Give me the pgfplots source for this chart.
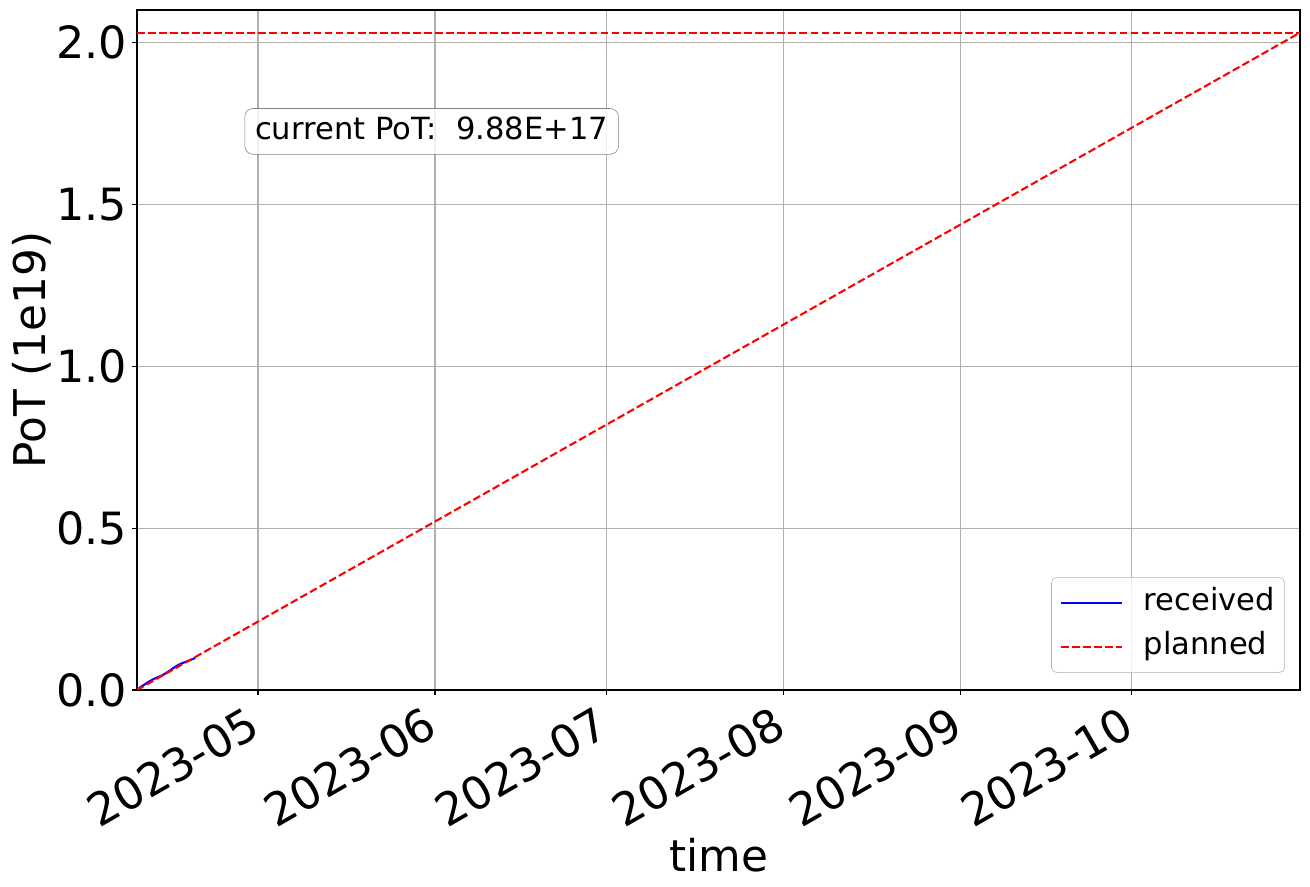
\documentclass[border=0pt]{standalone}
\usepackage{pgfplots}
\pgfplotsset{compat=1.18}
\usepackage{fontspec}
\setmainfont{DejaVu Sans}
\definecolor{mplgrid}{HTML}{B0B0B0}
\begin{document}
\begin{tikzpicture}
\useasboundingbox (-98.64pt,-141.84pt) rectangle (844.6pt,496.8pt);
\begin{axis}[
  at={(0pt,0pt)}, anchor=south west,
  scale only axis,
  width=837.4pt, height=489.6pt,
  xmin=-21.2, xmax=182.5,
  ymin=0, ymax=2.1,
  xtick={0,31,61,92,123,153},
  xticklabels={2023-05,2023-06,2023-07,2023-08,2023-09,2023-10},
  xticklabel style={rotate=30, anchor=north east, font=\fontsize{32.5}{39}\selectfont, inner sep=2pt, xshift=-9pt, yshift=0pt},
  ytick={0,0.5,1.0,1.5,2.0},
  yticklabel style={/pgf/number format/fixed, /pgf/number format/fixed zerofill, /pgf/number format/precision=1, font=\fontsize{32}{38}\selectfont},
  /pgf/number format/assume math mode=true,
  xlabel={time}, ylabel={PoT (1e19)},
  label style={font=\fontsize{31.5}{38}\selectfont},
  xlabel style={at={(axis description cs:0.5,-0.2426)}, anchor=center},
  ylabel style={at={(axis description cs:-0.0905,0.5)}, anchor=center, rotate=0},
  grid=major,
  major grid style={mplgrid, line width=0.8pt},
  tick style={black, line width=0.8pt},
  major tick length=3.5pt,
  tick align=outside,
  xtick pos=bottom, ytick pos=left,
  axis line style={line width=0.8pt},
  legend style={font=\fontsize{22}{26}\selectfont, draw=mplgrid, rounded corners=4pt, fill=white, fill opacity=0.8, text opacity=1, draw opacity=1, at={(0.987,0.025)}, anchor=south east, inner xsep=6pt, inner ysep=7pt, row sep=8.7pt, nodes={inner sep=1pt, text depth=5pt, text height=16pt}},
  legend image code/.code={\draw[#1] (0pt,0pt) -- (44pt,0pt);},
  legend cell align=left,
  clip=true,
]
\addplot[blue, line width=1.5pt] coordinates {
  (-21.2,0) (-20.5,0.010) (-19.6,0.020) (-18.9,0.028) (-18.0,0.036) (-17.2,0.042) (-16.6,0.047) (-15.6,0.058) (-14.7,0.069) (-13.9,0.078) (-13.1,0.084) (-12.2,0.090) (-11.0,0.0988)
};
\addlegendentry{\hspace{14pt}received}
\addplot[red, line width=1.5pt, dash pattern=on 5.55pt off 2.4pt] coordinates {
  (-21.2,0) (182.5,2.03)
};
\addlegendentry{\hspace{14pt}planned}
\addplot[red, line width=1.5pt, dash pattern=on 5.55pt off 2.4pt, forget plot] coordinates {
  (-21.2,2.03) (182.5,2.03)
};
\node[draw=gray, rounded corners=6pt, fill=white, fill opacity=0.8, text opacity=1, draw opacity=1, font=\fontsize{22}{26}\selectfont, inner xsep=7.5pt, inner ysep=6pt, text height=16.5pt, text depth=4.5pt] at (axis cs:30.4,1.725) {current PoT:\ \ 9.88E+17};
\end{axis}
\end{tikzpicture}
\end{document}
